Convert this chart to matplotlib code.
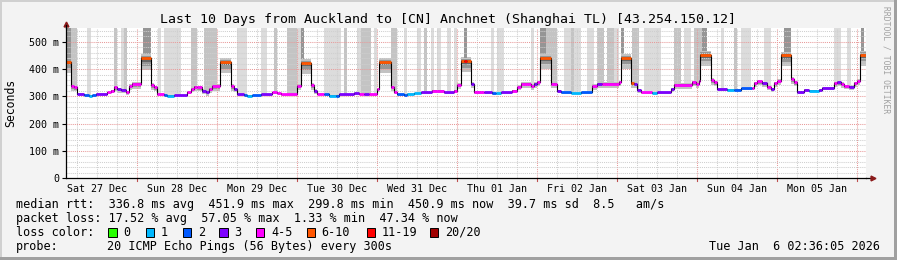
import numpy as np
import matplotlib
matplotlib.use('Agg')
import matplotlib.pyplot as plt
from matplotlib.patches import Rectangle

W, H = 897, 260
MONO = 'DejaVu Sans Mono'

# time axis: hours since Sat 27 Dec 00:00, window = last 10 days up to Tue Jan 6 02:36
t_start, t_end = 2.6, 242.6

# median rtt as steps: segment start (h), median (ms), loss class, smoke spread (ms)
seg_h = [2.6, 4.0, 5.0, 6.0, 8.0, 9.5, 10.5, 11.5, 15.0, 16.0, 17.0, 18.0, 19.0, 20.5, 21.5, 22.5,
         25.0, 28.0, 29.0, 30.0, 32.0, 33.0, 35.0, 39.0, 40.0, 41.0, 42.0, 43.5, 44.5, 45.5, 46.5,
         48.8, 52.2, 53.0, 54.0, 56.0, 57.0, 58.5, 61.0, 64.5, 66.0, 67.0, 72.0,
         73.0, 76.0, 77.0, 78.0, 80.0, 81.5, 83.5, 84.5, 89.0, 90.5, 92.0, 93.5, 96.0,
         96.5, 100.0, 101.0, 102.0, 104.0, 105.0, 107.0, 109.0, 112.5, 116.0, 119.0, 120.0,
         121.0, 122.0, 123.0, 124.0, 125.0, 128.0, 130.5, 131.5, 133.0, 136.5, 138.0, 139.0, 142.0, 143.0, 144.0,
         144.8, 148.0, 150.0, 151.0, 154.0, 157.0, 160.5, 162.0, 163.5, 168.5,
         169.0, 172.0, 173.0, 174.0, 175.0, 178.5, 180.0, 184.0, 185.0, 190.5, 191.5, 192.5,
         192.8, 196.0, 197.0, 198.0, 201.0, 203.0, 205.0, 208.5, 209.0, 210.0, 211.5, 213.0, 214.0, 215.0, 216.0,
         217.0, 220.0, 221.0, 222.0, 224.0, 225.5, 228.5, 229.5, 233.0, 234.0, 235.0, 236.0, 237.5, 239.0, 240.0,
         240.8]
seg_ms = [427, 339, 333, 309, 305, 303, 305, 309, 315, 321, 333, 327, 324, 315, 339, 346,
          440, 342, 333, 309, 305, 303, 305, 315, 327, 336, 333, 321, 315, 327, 339,
          425, 339, 327, 307, 305, 303, 305, 307, 315, 311, 307, 339,
          422, 342, 321, 309, 307, 303, 303, 307, 312, 309, 307, 307, 327,
          425, 336, 317, 307, 305, 309, 311, 315, 321, 315, 321, 342,
          429, 428, 429, 346, 317, 315, 311, 311, 315, 321, 336, 346, 339, 346, 352,
          441, 346, 321, 315, 311, 315, 339, 346, 346, 352,
          441, 348, 346, 324, 315, 311, 315, 327, 342, 352, 346, 358,
          453, 360, 352, 327, 324, 324, 330, 330, 348, 356, 348, 336, 327, 348, 358,
          450, 364, 352, 317, 324, 321, 324, 330, 348, 352, 346, 339, 336, 348, 358,
          453]
seg_loss = [5, 4, 4, 3, 2, 1, 2, 3, 4, 4, 4, 3, 3, 4, 4, 4,
            5, 4, 4, 4, 2, 1, 3, 4, 4, 4, 4, 3, 3, 4, 4,
            5, 4, 3, 3, 2, 1, 2, 3, 4, 4, 4, 4,
            5, 4, 3, 4, 2, 1, 2, 3, 3, 4, 3, 4, 4,
            5, 4, 4, 2, 2, 1, 1, 3, 4, 3, 4, 4,
            5, 6, 5, 3, 4, 3, 2, 1, 3, 4, 4, 4, 4, 3, 4,
            5, 4, 3, 2, 1, 2, 4, 3, 4, 4,
            5, 5, 3, 3, 4, 1, 3, 3, 4, 4, 4, 4,
            5, 4, 4, 3, 1, 2, 2, 4, 4, 4, 3, 4, 3, 4, 4,
            5, 4, 4, 3, 3, 1, 3, 3, 4, 3, 4, 4, 3, 4, 4,
            5]
seg_spread = [40, 18, 15, 5, 4, 4, 4, 4, 6, 10, 15, 15, 12, 10, 15, 18,
              45, 18, 15, 6, 4, 4, 4, 8, 12, 15, 15, 12, 12, 15, 18,
              40, 18, 12, 5, 4, 4, 4, 4, 6, 6, 5, 15,
              40, 18, 12, 5, 4, 4, 4, 4, 6, 5, 5, 5, 12,
              40, 15, 10, 4, 4, 4, 4, 5, 8, 6, 8, 15,
              40, 40, 40, 15, 8, 6, 5, 5, 5, 8, 12, 15, 15, 15, 15,
              40, 15, 10, 5, 4, 5, 15, 15, 15, 15,
              40, 18, 15, 10, 5, 4, 5, 12, 15, 15, 15, 15,
              40, 18, 15, 8, 5, 5, 6, 6, 15, 15, 15, 12, 10, 15, 15,
              40, 18, 15, 8, 6, 5, 6, 8, 15, 15, 15, 12, 12, 15, 15,
              40]

# grey loss columns reaching the top of the graph: start (h), end (h), shade class
bar_start = [2.6, 4.0, 9.0, 17.0, 19.0, 20.0, 25.8, 30.2, 32.0, 40.0, 44.0,
             54.0, 61.0, 65.0, 69.0, 72.0, 73.0, 80.0, 86.0, 90.0, 91.0, 95.0,
             100.0, 104.0, 108.0, 110.0, 112.0, 114.0, 117.0, 119.0, 122.0, 130.0, 132.0, 142.0,
             144.8, 146.5, 148.0, 152.0, 154.0, 159.0, 162.0, 165.0, 167.0, 169.0, 172.5, 176.0,
             185.0, 188.0, 191.0, 193.5, 199.0, 203.0, 205.0, 212.0, 218.0, 233.0, 237.0, 241.0]
bar_end = [4.0, 6.0, 10.0, 18.0, 20.0, 21.0, 28.0, 31.2, 37.0, 42.0, 48.0,
           57.0, 63.0, 66.0, 72.0, 73.0, 74.0, 85.0, 87.0, 91.0, 94.0, 96.0,
           102.0, 105.0, 109.0, 111.0, 113.0, 115.0, 118.0, 120.0, 123.0, 131.0, 134.0, 143.0,
           146.5, 148.0, 150.0, 157.0, 155.0, 161.0, 164.0, 167.0, 168.5, 170.0, 174.5, 181.0,
           187.0, 190.0, 193.5, 195.0, 200.0, 204.0, 208.0, 214.0, 220.0, 235.0, 238.0, 242.0]
bar_shade = [2, 1, 0, 1, 0, 1, 2, 0, 0, 1, 1,
             0, 0, 1, 1, 0, 2, 0, 1, 0, 1, 0,
             1, 0, 0, 1, 0, 0, 0, 0, 2, 0, 0, 0,
             2, 1, 1, 0, 1, 0, 1, 1, 0, 2, 1, 0,
             1, 0, 1, 2, 0, 1, 0, 0, 2, 0, 0, 2]

day_labels = ['Sat 27 Dec', 'Sun 28 Dec', 'Mon 29 Dec', 'Tue 30 Dec', 'Wed 31 Dec',
              'Thu 01 Jan', 'Fri 02 Jan', 'Sat 03 Jan', 'Sun 04 Jan', 'Mon 05 Jan']
y_ticks = [0, 100, 200, 300, 400, 500]
y_tick_labels = ['0', '100 m', '200 m', '300 m', '400 m', '500 m']

loss_colors = ['#26ff00', '#00b8ff', '#0059ff', '#7e00ff', '#ff00ff', '#ff5500', '#ff0000', '#a10000']
loss_labels = ['0', '1', '2', '3', '4-5', '6-10', '11-19', '20/20']
shade_colors = ['#dcdcdc', '#c4c4c4', '#959595']

title = 'Last 10 Days from Auckland to [CN] Anchnet (Shanghai TL) [43.254.150.12]'
stats_rtt = 'median rtt:  336.8 ms avg  451.9 ms max  299.8 ms min  450.9 ms now  39.7 ms sd  8.5   am/s'
stats_loss = 'packet loss: 17.52 % avg  57.05 % max  1.33 % min  47.34 % now'
probe_text = ['probe:', '20 ICMP Echo Pings (56 Bytes) every 300s']
stamp = 'Tue Jan  6 02:36:05 2026'

# ---------------------------------------------------------------
fig = plt.figure(figsize=(W / 100, H / 100), dpi=100)
fig.patch.set_facecolor('#f3f3f3')

def fx(x):
    return x / W

def fy(y):
    return 1 - y / H

# frame
for (x0, y0, w, h, c) in [(0, 0, W, 2, '#d0d0d0'), (0, 0, 2, H, '#d0d0d0'),
                          (0, H - 3, W, 3, '#a0a0a0'), (W - 3, 0, 3, H, '#a0a0a0')]:
    fig.patches.append(Rectangle((fx(x0), fy(y0 + h)), w / W, h / H, transform=fig.transFigure,
                                 color=c, lw=0, zorder=0))

ax = fig.add_axes([fx(66), fy(178), 800 / W, 150 / H])
ax.set_facecolor('white')
ax.set_xlim(t_start, t_end)
ax.set_ylim(0, 551)

seg_h_a = np.array(seg_h, dtype=float)
seg_ms_a = np.array(seg_ms, dtype=float)
seg_sp_a = np.array(seg_spread, dtype=float)
seg_end = np.append(seg_h_a[1:], t_end)
xs = np.append(seg_h_a, t_end)

def ext(a):
    return np.append(a, a[-1])

# tall grey loss columns
for bs, be, sh in zip(bar_start, bar_end, bar_shade):
    inside = seg_h_a[(seg_h_a > bs) & (seg_h_a < be)]
    bx = np.concatenate([[bs], inside, [be]])
    idx = np.searchsorted(seg_h_a, bx, side='right') - 1
    idx = np.clip(idx, 0, len(seg_ms_a) - 1)
    by = seg_ms_a[idx]
    by[-1] = by[-2]
    ax.fill_between(bx, by, 600, step='post', color=shade_colors[sh], lw=0, zorder=1)

# smoke
for lo, hi, c in [(1.0, 0.35, '#c2c2c2'), (0.6, 0.22, '#969696'), (0.28, 0.1, '#666666')]:
    ax.fill_between(xs, ext(seg_ms_a - lo * seg_sp_a), ext(seg_ms_a + hi * seg_sp_a),
                    step='post', color=c, lw=0, zorder=2)

# grid
for hh in range(6, 243, 6):
    if t_start < hh < t_end:
        if hh % 24 == 0:
            ax.axvline(hh, color='#e89a9a', lw=0.75, ls=(0, (1, 1)), zorder=2.5)
        else:
            ax.axvline(hh, color='#cfcfcf', lw=0.75, ls=(0, (1, 1)), zorder=2.5)
for v in range(20, 551, 20):
    if v % 100 == 0:
        ax.axhline(v, color='#e89a9a', lw=0.75, ls=(0, (1, 1)), zorder=2.5)
    else:
        ax.axhline(v, color='#cfcfcf', lw=0.75, ls=(0, (1, 1)), zorder=2.5)

# median line
ax.step(xs, ext(seg_ms_a), where='post', color='black', lw=0.8, zorder=3)
for h0, h1, m, l in zip(seg_h_a, seg_end, seg_ms_a, seg_loss):
    ax.hlines(m, h0, h1, color=loss_colors[l], lw=2.0, zorder=4)

# axes styling
for s in ['top', 'right']:
    ax.spines[s].set_visible(False)
for s in ['left', 'bottom']:
    ax.spines[s].set_color('black')
    ax.spines[s].set_linewidth(0.9)
    ax.spines[s].set_zorder(5)

ax.set_xticks([12 + 24 * k for k in range(len(day_labels))])
ax.set_xticklabels(day_labels, fontfamily=MONO, fontsize=7.2)
ax.tick_params(axis='x', length=0, pad=4)
ax.set_yticks(y_ticks)
ax.set_yticklabels(y_tick_labels, fontfamily=MONO, fontsize=7.2)
ax.tick_params(axis='y', length=3, width=0.8, pad=2, direction='out')

# midnight ticks below the axis
for k in range(1, 11):
    ax.plot([24 * k, 24 * k], [-0.02, 0], transform=ax.get_xaxis_transform(),
            color='#c05050', lw=0.8, clip_on=False, zorder=5)

# axis arrows
ax.plot([1.0, 1.008], [0, 0], transform=ax.transAxes, color='black', lw=0.9, clip_on=False)
ax.plot([1.009], [0], marker='>', ms=3.5, color='#8b1a1a', transform=ax.transAxes, clip_on=False)
ax.plot([0], [1.025], marker='^', ms=3.5, color='#8b1a1a', transform=ax.transAxes, clip_on=False)
ax.plot([0, 0], [1.0, 1.02], transform=ax.transAxes, color='black', lw=0.9, clip_on=False)

# texts
fig.text(fx(448), fy(19), title, ha='center', va='center', family=MONO, fontsize=9.5)
fig.text(fx(11), fy(103), 'Seconds', rotation=90, ha='center', va='center', family=MONO, fontsize=8.3)
fig.text(fx(886), fy(60), 'RRDTOOL / TOBI OETIKER', rotation=270, ha='center', va='center',
         family=MONO, fontsize=5.8, color='#a0a0a0')

fig.text(fx(16), fy(204.3), stats_rtt, ha='left', va='center', family=MONO, fontsize=8.5)
fig.text(fx(16), fy(218.3), stats_loss, ha='left', va='center', family=MONO, fontsize=8.5)

fig.text(fx(16), fy(232.3), 'loss color:', ha='left', va='center', family=MONO, fontsize=8.5)
box_x = [108.3, 145.7, 182.7, 219.3, 256, 306.7, 366.7, 430]
for c, lab, bx in zip(loss_colors, loss_labels, box_x):
    fig.patches.append(Rectangle((fx(bx), fy(236.7)), 8.3 / W, 8.3 / H, transform=fig.transFigure,
                                 facecolor=c, edgecolor='black', lw=0.7))
    fig.text(fx(bx + 15), fy(232.3), lab, ha='left', va='center', family=MONO, fontsize=8.5)

fig.text(fx(16), fy(246.3), probe_text[0], ha='left', va='center', family=MONO, fontsize=8.5)
fig.text(fx(107.3), fy(246.3), probe_text[1], ha='left', va='center', family=MONO, fontsize=8.5)
fig.text(fx(880), fy(246.3), stamp, ha='right', va='center', family=MONO, fontsize=8.5)

fig.savefig('out.png', dpi=100, facecolor=fig.get_facecolor())
